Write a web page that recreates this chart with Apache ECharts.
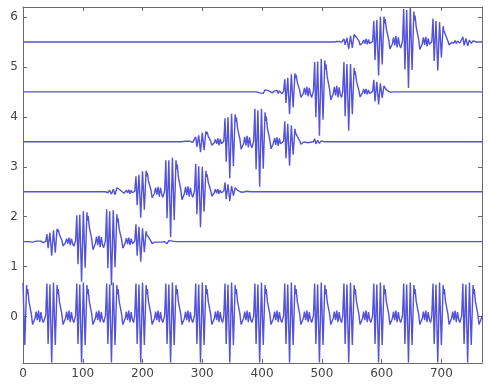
<!DOCTYPE html>
<html>
<head>
<meta charset="utf-8">
<script src="https://cdn.jsdelivr.net/npm/echarts@6/dist/echarts.min.js"></script>
<style>
html,body{margin:0;padding:0;background:#fff;}
#chart{width:488px;height:384px;}
</style>
</head>
<body>
<div id="chart"></div>
<script>
// tick labels
const xTicks = [0, 100, 200, 300, 400, 500, 600, 700];
const yTicks = [0, 1, 2, 3, 4, 5, 6];

// bottom periodic signal (x, y) vertices
const signal = [
[0,0.68],[3,-0.57],[6,0.63],[7,0.45],[8,0.55],[10,0.30],[12,0.28],[14,0.05],[16,-0.16],[18,-0.14],[20,-0.04],[22,0.10],[24,-0.07],[26,0.12],[28,-0.11],[30,0.09],[32,-0.06],[34,-0.12],
[38,0.02],[40,0.66],[42,-0.55],[45,0.64],[48,-0.92],[51,0.68],[54,-0.57],[57,0.63],[58,0.45],[59,0.55],[61,0.30],[63,0.28],[65,0.05],[67,-0.16],[69,-0.14],[71,-0.04],[73,0.10],[75,-0.07],[77,0.12],[79,-0.11],[81,0.09],[83,-0.06],[85,-0.12],
[88,0.02],[90,0.66],[92,-0.55],[95,0.64],[98,-0.92],[101,0.68],[104,-0.57],[107,0.63],[108,0.45],[109,0.55],[111,0.30],[113,0.28],[115,0.05],[117,-0.16],[119,-0.14],[121,-0.04],[123,0.10],[125,-0.07],[127,0.12],[129,-0.11],[131,0.09],[133,-0.06],[135,-0.12],
[138,0.02],[140,0.66],[142,-0.55],[145,0.64],[148,-0.92],[151,0.68],[154,-0.57],[157,0.63],[158,0.45],[159,0.55],[161,0.30],[163,0.28],[165,0.05],[167,-0.16],[169,-0.14],[171,-0.04],[173,0.10],[175,-0.07],[177,0.12],[179,-0.11],[181,0.09],[183,-0.06],[185,-0.12],
[187,0.02],[189,0.66],[191,-0.55],[194,0.64],[197,-0.92],[200,0.68],[203,-0.57],[206,0.63],[207,0.45],[208,0.55],[210,0.30],[212,0.28],[214,0.05],[216,-0.16],[218,-0.14],[220,-0.04],[222,0.10],[224,-0.07],[226,0.12],[228,-0.11],[230,0.09],[232,-0.06],[234,-0.12],
[237,0.02],[239,0.66],[241,-0.55],[244,0.64],[247,-0.92],[250,0.68],[253,-0.57],[256,0.63],[257,0.45],[258,0.55],[260,0.30],[262,0.28],[264,0.05],[266,-0.16],[268,-0.14],[270,-0.04],[272,0.10],[274,-0.07],[276,0.12],[278,-0.11],[280,0.09],[282,-0.06],[284,-0.12],
[287,0.02],[289,0.66],[291,-0.55],[294,0.64],[297,-0.92],[300,0.68],[303,-0.57],[306,0.63],[307,0.45],[308,0.55],[310,0.30],[312,0.28],[314,0.05],[316,-0.16],[318,-0.14],[320,-0.04],[322,0.10],[324,-0.07],[326,0.12],[328,-0.11],[330,0.09],[332,-0.06],[334,-0.12],
[336,0.02],[338,0.66],[340,-0.55],[343,0.64],[346,-0.92],[349,0.68],[352,-0.57],[355,0.63],[356,0.45],[357,0.55],[359,0.30],[361,0.28],[363,0.05],[365,-0.16],[367,-0.14],[369,-0.04],[371,0.10],[373,-0.07],[375,0.12],[377,-0.11],[379,0.09],[381,-0.06],[383,-0.12],
[386,0.02],[388,0.66],[390,-0.55],[393,0.64],[396,-0.92],[399,0.68],[402,-0.57],[405,0.63],[406,0.45],[407,0.55],[409,0.30],[411,0.28],[413,0.05],[415,-0.16],[417,-0.14],[419,-0.04],[421,0.10],[423,-0.07],[425,0.12],[427,-0.11],[429,0.09],[431,-0.06],[433,-0.12],
[436,0.02],[438,0.66],[440,-0.55],[443,0.64],[446,-0.92],[449,0.68],[452,-0.57],[455,0.63],[456,0.45],[457,0.55],[459,0.30],[461,0.28],[463,0.05],[465,-0.16],[467,-0.14],[469,-0.04],[471,0.10],[473,-0.07],[475,0.12],[477,-0.11],[479,0.09],[481,-0.06],[483,-0.12],
[486,0.02],[488,0.66],[490,-0.55],[493,0.64],[496,-0.92],[499,0.68],[502,-0.57],[505,0.63],[506,0.45],[507,0.55],[509,0.30],[511,0.28],[513,0.05],[515,-0.16],[517,-0.14],[519,-0.04],[521,0.10],[523,-0.07],[525,0.12],[527,-0.11],[529,0.09],[531,-0.06],[533,-0.12],
[535,0.02],[537,0.66],[539,-0.55],[542,0.64],[545,-0.92],[548,0.68],[551,-0.57],[554,0.63],[555,0.45],[556,0.55],[558,0.30],[560,0.28],[562,0.05],[564,-0.16],[566,-0.14],[568,-0.04],[570,0.10],[572,-0.07],[574,0.12],[576,-0.11],[578,0.09],[580,-0.06],[582,-0.12],
[585,0.02],[587,0.66],[589,-0.55],[592,0.64],[595,-0.92],[598,0.68],[601,-0.57],[604,0.63],[605,0.45],[606,0.55],[608,0.30],[610,0.28],[612,0.05],[614,-0.16],[616,-0.14],[618,-0.04],[620,0.10],[622,-0.07],[624,0.12],[626,-0.11],[628,0.09],[630,-0.06],[632,-0.12],
[635,0.02],[637,0.66],[639,-0.55],[642,0.64],[645,-0.92],[648,0.68],[651,-0.57],[654,0.63],[655,0.45],[656,0.55],[658,0.30],[660,0.28],[662,0.05],[664,-0.16],[666,-0.14],[668,-0.04],[670,0.10],[672,-0.07],[674,0.12],[676,-0.11],[678,0.09],[680,-0.06],[682,-0.12],
[684,0.02],[686,0.66],[688,-0.55],[691,0.64],[694,-0.92],[697,0.68],[700,-0.57],[703,0.63],[704,0.45],[705,0.55],[707,0.30],[709,0.28],[711,0.05],[713,-0.16],[715,-0.14],[717,-0.04],[719,0.10],[721,-0.07],[723,0.12],[725,-0.11],[727,0.09],[729,-0.06],[731,-0.12],
[734,0.02],[736,0.66],[738,-0.55],[741,0.64],[744,-0.92],[747,0.68],[750,-0.57],[753,0.63],[754,0.45],[755,0.55],[757,0.30],[759,0.28],[761,0.05],[763,-0.16],[765,-0.14],[767,-0.04],[768,0.02]
];

// windowed segments, each drawn at its own offset
const row1 = [
[0,1.5],[10,1.5],[16,1.49],[22,1.51],[26,1.51],[28,1.49],[30,1.51],[34,1.48],
[38,1.50],[40,1.65],[42,1.37],[45,1.68],[48,1.22],[51,1.73],[54,1.28],[57,1.76],[58,1.69],[59,1.74],[61,1.64],[63,1.64],[65,1.53],[67,1.41],[69,1.42],[71,1.48],[73,1.56],[75,1.46],[77,1.58],[79,1.43],[81,1.56],[83,1.46],[85,1.41],
[88,1.52],[90,2.03],[92,1.05],[95,2.04],[98,0.70],[101,2.11],[104,0.98],[107,2.09],[108,1.92],[109,2.02],[111,1.79],[113,1.77],[115,1.55],[117,1.34],[119,1.36],[121,1.46],[123,1.60],[125,1.43],[127,1.62],[129,1.39],[131,1.59],[133,1.44],[135,1.38],
[138,1.52],[140,2.15],[142,0.97],[145,2.11],[148,0.63],[151,2.13],[154,0.99],[157,2.05],[158,1.89],[159,1.97],[161,1.75],[163,1.73],[165,1.54],[167,1.37],[169,1.39],[171,1.47],[173,1.57],[175,1.45],[177,1.58],[179,1.43],[181,1.56],[183,1.46],[185,1.43],
[187,1.51],[189,1.85],[191,1.22],[194,1.80],[197,1.10],[200,1.77],[203,1.29],[206,1.71],[207,1.64],[208,1.67],[210,1.59],[212,1.57],[214,1.51],[216,1.46],[218,1.47],[220,1.49],[222,1.52],[224,1.49],[226,1.52],[228,1.49],[230,1.51],[232,1.49],[234,1.49],
[237,1.50],[239,1.54],[241,1.46],[244,1.52],[247,1.48],[250,1.51],[253,1.50],[256,1.50],[768,1.50]
];
const row2 = [
[0,2.5],[138,2.50],[140,2.51],[142,2.48],[145,2.53],[148,2.45],[151,2.55],[154,2.44],[157,2.58],[158,2.56],[159,2.58],[161,2.55],[163,2.55],[165,2.51],[167,2.47],[169,2.47],[171,2.49],[173,2.53],[175,2.48],[177,2.54],[179,2.46],[181,2.53],[183,2.48],[185,2.45],
[187,2.51],[189,2.81],[191,2.23],[194,2.84],[197,1.98],[200,2.91],[203,2.14],[206,2.92],[207,2.81],[208,2.88],[210,2.71],[212,2.71],[214,2.54],[216,2.38],[218,2.39],[220,2.47],[222,2.58],[224,2.44],[226,2.60],[228,2.40],[230,2.58],[232,2.45],[234,2.39],
[237,2.52],[239,3.13],[241,1.97],[244,3.13],[247,1.59],[250,3.18],[253,1.93],[256,3.13],[257,2.95],[258,3.05],[260,2.80],[262,2.78],[264,2.55],[266,2.34],[268,2.36],[270,2.46],[272,2.60],[274,2.43],[276,2.61],[278,2.40],[280,2.58],[282,2.45],[284,2.39],
[287,2.52],[289,3.06],[291,2.05],[294,3.01],[297,1.79],[300,3.00],[303,2.10],[306,2.92],[307,2.80],[308,2.85],[310,2.69],[312,2.67],[314,2.53],[316,2.41],[318,2.43],[320,2.48],[322,2.55],[324,2.47],[326,2.55],[328,2.46],[330,2.53],[332,2.48],[334,2.46],
[336,2.51],[338,2.69],[340,2.35],[343,2.65],[346,2.31],[349,2.62],[352,2.42],[355,2.58],[356,2.55],[357,2.56],[359,2.53],[361,2.52],[363,2.50],[365,2.48],[367,2.49],[371,2.50],[375,2.51],[377,2.49],[381,2.50],[768,2.50]
];
const row3 = [
[0,3.5],[264,3.50],[266,3.49],[272,3.51],[276,3.51],[278,3.49],[280,3.51],[282,3.49],[284,3.49],
[287,3.50],[289,3.60],[291,3.40],[294,3.63],[297,3.29],[300,3.68],[303,3.33],[306,3.71],[307,3.65],[308,3.70],[310,3.61],[312,3.61],[314,3.52],[316,3.43],[318,3.43],[320,3.48],[322,3.55],[324,3.46],[326,3.57],[328,3.43],[330,3.56],[332,3.46],[334,3.42],
[336,3.51],[338,3.97],[340,3.10],[343,3.99],[346,2.77],[349,4.06],[352,3.01],[355,4.05],[356,3.90],[357,3.99],[359,3.77],[361,3.76],[363,3.55],[365,3.35],[367,3.37],[369,3.46],[371,3.60],[373,3.43],[375,3.62],[377,3.39],[379,3.59],[381,3.44],[383,3.38],
[386,3.52],[388,4.16],[390,2.95],[393,4.13],[396,2.60],[399,4.16],[402,2.96],[405,4.09],[406,3.92],[407,4.01],[409,3.77],[411,3.75],[413,3.54],[415,3.36],[417,3.38],[419,3.47],[421,3.58],[423,3.44],[425,3.59],[427,3.42],[429,3.57],[431,3.46],[433,3.42],
[436,3.51],[438,3.91],[440,3.17],[443,3.86],[446,3.02],[449,3.83],[452,3.24],[455,3.76],[456,3.68],[457,3.71],[459,3.61],[461,3.60],[463,3.52],[465,3.45],[467,3.46],[469,3.49],[471,3.52],[473,3.49],[475,3.52],[477,3.48],[479,3.51],[481,3.49],[483,3.49],
[486,3.50],[488,3.56],[490,3.46],[493,3.53],[496,3.47],[499,3.52],[502,3.49],[505,3.50],[512,3.50],[768,3.50]
];
const row4 = [
[0,4.5],[390,4.50],[393,4.51],[396,4.48],[399,4.52],[402,4.47],[405,4.54],[407,4.54],[409,4.53],[411,4.53],[413,4.51],[415,4.48],[417,4.48],[419,4.49],[421,4.52],[423,4.49],[425,4.53],[427,4.47],[429,4.52],[431,4.48],[433,4.46],
[436,4.51],[438,4.75],[440,4.28],[443,4.78],[446,4.06],[449,4.85],[452,4.19],[455,4.87],[456,4.77],[457,4.84],[459,4.69],[461,4.68],[463,4.53],[465,4.39],[467,4.40],[469,4.47],[471,4.58],[473,4.44],[475,4.60],[477,4.41],[479,4.58],[481,4.45],[483,4.39],
[486,4.52],[488,5.10],[490,3.99],[493,5.11],[496,3.62],[499,5.16],[502,3.94],[505,5.13],[506,4.95],[507,5.05],[509,4.80],[511,4.78],[513,4.55],[515,4.34],[517,4.36],[519,4.46],[521,4.60],[523,4.43],[525,4.62],[527,4.39],[529,4.59],[531,4.44],[533,4.39],
[535,4.52],[537,5.10],[539,4.01],[542,5.06],[545,3.72],[548,5.06],[551,4.05],[554,4.98],[555,4.84],[556,4.91],[558,4.71],[560,4.69],[562,4.53],[564,4.40],[566,4.41],[568,4.48],[570,4.56],[572,4.46],[574,4.56],[576,4.45],[578,4.54],[580,4.47],[582,4.45],
[585,4.51],[587,4.74],[589,4.31],[592,4.70],[595,4.25],[598,4.67],[601,4.38],[604,4.62],[605,4.58],[606,4.59],[608,4.54],[610,4.54],[612,4.51],[614,4.48],[616,4.49],[620,4.50],[768,4.50]
];
const row5 = [
[0,5.5],[521,5.50],[525,5.51],[527,5.49],[529,5.51],[533,5.49],
[535,5.50],[537,5.56],[539,5.44],[542,5.58],[545,5.36],[548,5.62],[551,5.38],[554,5.65],[555,5.61],[556,5.65],[558,5.59],[560,5.59],[562,5.52],[564,5.44],[566,5.45],[568,5.48],[570,5.54],[572,5.47],[574,5.56],[576,5.45],[578,5.55],[580,5.47],[582,5.43],
[585,5.51],[587,5.92],[589,5.14],[592,5.94],[595,4.83],[598,6.01],[601,5.05],[604,6.01],[605,5.87],[606,5.96],[608,5.76],[610,5.74],[612,5.54],[614,5.36],[616,5.37],[618,5.46],[620,5.59],[622,5.43],[624,5.62],[626,5.39],[628,5.59],[630,5.44],[632,5.38],
[635,5.52],[637,6.16],[639,4.95],[642,6.14],[645,4.58],[648,6.20],[651,4.94],[654,6.11],[655,5.93],[656,6.03],[658,5.79],[660,5.76],[662,5.55],[664,5.35],[666,5.37],[668,5.46],[670,5.59],[672,5.44],[674,5.60],[676,5.41],[678,5.57],[680,5.45],[682,5.41],
[684,5.51],[686,5.97],[688,5.12],[691,5.92],[694,4.93],[697,5.90],[700,5.19],[703,5.82],[704,5.73],[705,5.77],[707,5.64],[709,5.62],[711,5.52],[713,5.44],[715,5.45],[717,5.49],[719,5.53],[721,5.48],[723,5.53],[725,5.47],[727,5.52],[729,5.49],[731,5.48],
[734,5.50],[736,5.60],[738,5.43],[741,5.57],[744,5.42],[747,5.54],[750,5.47],[753,5.52],[755,5.51],[759,5.50],[768,5.50]
];

const allSeries = [signal, row1, row2, row3, row4, row5];

const chart = echarts.init(document.getElementById('chart'), null, {renderer: 'canvas'});
const lineColor = '#5252dc';
const frameColor = '#6a6a6a';
const labelStyle = {color: '#444', fontSize: 12, fontFamily: 'DejaVu Sans'};

function xAx(pos, showLabel) {
  return {
    type: 'value', position: pos, min: 0, max: 768, interval: 100,
    axisLine: {show: true, onZero: false, lineStyle: {color: frameColor, width: 1}},
    axisTick: {show: true, inside: true, length: 4, lineStyle: {color: frameColor}},
    axisLabel: Object.assign({show: showLabel, margin: 5, customValues: xTicks}, labelStyle),
    splitLine: {show: false}
  };
}
function yAx(pos, showLabel) {
  return {
    type: 'value', position: pos, min: -0.93, max: 6.2,
    axisLine: {show: true, onZero: false, lineStyle: {color: frameColor, width: 1}},
    axisTick: {show: true, inside: true, length: 4, customValues: yTicks, lineStyle: {color: frameColor}},
    axisLabel: Object.assign({show: showLabel, margin: 5, customValues: yTicks}, labelStyle),
    splitLine: {show: false}
  };
}

chart.setOption({
  animation: false,
  backgroundColor: '#ffffff',
  grid: {left: 23, right: 6, top: 7, bottom: 21, containLabel: false, outerBoundsMode: 'none'},
  xAxis: [xAx('bottom', true), xAx('top', false)],
  yAxis: [yAx('left', true), yAx('right', false)],
  series: allSeries.map(d => ({
    type: 'line', data: d, showSymbol: false, symbol: 'none',
    xAxisIndex: 0, yAxisIndex: 0,
    lineStyle: {color: lineColor, width: 1.4},
    emphasis: {disabled: true}
  }))
});
</script>
</body>
</html>
